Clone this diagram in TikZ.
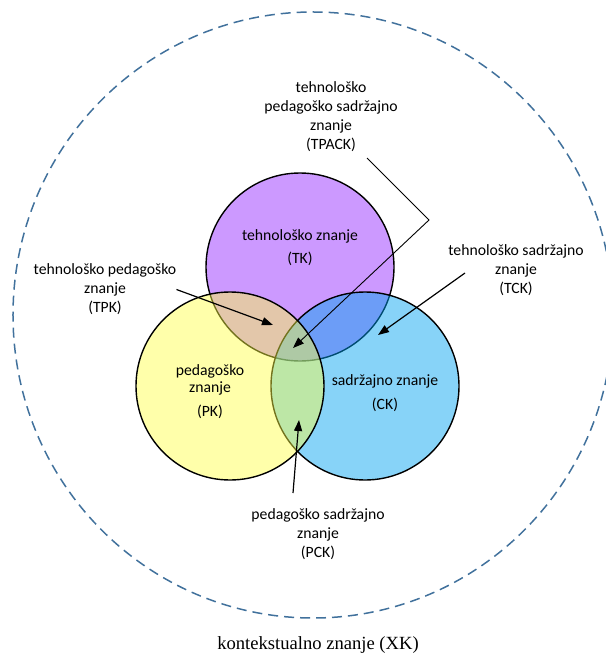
\documentclass[tikz,border=0pt]{standalone}
\usepackage{fontspec}
\setmainfont{Carlito}
\newfontfamily\xkfont{Liberation Serif}
\usetikzlibrary{arrows.meta}

\definecolor{tkboja}{RGB}{204,153,255}
\definecolor{ckboja}{RGB}{0,162,240}
\definecolor{pkboja}{RGB}{255,255,67}
\definecolor{xkboja}{RGB}{65,113,156}

\begin{document}
\begin{tikzpicture}[x=1bp, y=-1bp,
    krug/.style={draw, circle, line width=1.4bp, minimum size=188bp, inner sep=0pt},
    oznaka/.style={align=center, inner sep=0pt, font=\fontsize{15.7bp}{19bp}\selectfont},
    strelica/.style={-{Triangle[length=11bp, width=8bp]}, line width=1.2bp}]
    \clip (0,0) rectangle (606,655);
    \useasboundingbox (0,0) rectangle (606,655);
    % kontekst
    \draw[xkboja, line width=1.5bp, dash pattern=on 10bp off 6bp] (313,315) ellipse [x radius=300bp, y radius=303bp];
    % krugovi
    \node[krug, fill=tkboja] (TK) at (300,267) {};
    \node[krug, fill=ckboja, fill opacity=0.47] (CK) at (365,386) {};
    \node[krug, fill=pkboja, fill opacity=0.45] (PK) at (230,386) {};
    \node[oznaka] (TKtekst) at (300,248) {tehnološko znanje\\[4bp](TK)};
    \node[oznaka] (PKtekst) at (210,392) {pedagoško\\[-2bp]znanje\\[5bp](PK)};
    \node[oznaka] (CKtekst) at (385,393) {sadržajno znanje\\[5bp](CK)};
    % opisi
    \node[oznaka] (TPACK) at (331,117) {tehnološko\\pedagoško sadržajno\\znanje\\(TPACK)};
    \node[oznaka] (TPK) at (105,289.5) {tehnološko pedagoško\\znanje\\(TPK)};
    \node[oznaka] (TCK) at (516,270.5) {tehnološko sadržajno\\znanje\\(TCK)};
    \node[oznaka] (PCK) at (318,534.5) {pedagoško sadržajno\\znanje\\(PCK)};
    \node[font=\xkfont\fontsize{18.6bp}{22bp}\selectfont, inner sep=0pt] (XK) at (318,645) {kontekstualno znanje (XK)};
    % strelice
    \coordinate (tpackPocetak) at (367,158);
    \coordinate (tpackLom) at (429,220);
    \coordinate (tpackVrh) at (293,348);
    \coordinate (tpkVrh) at (273,325);
    \coordinate (tckPocetak) at (465,273);
    \coordinate (tckVrh) at (378,335);
    \coordinate (pckPocetak) at (293,493);
    \coordinate (pckVrh) at (299,420);
    \draw[strelica, line width=0.9bp] (tpackPocetak) -- (tpackLom) -- (tpackVrh);
    \draw[strelica] (TPK.east) -- (tpkVrh);
    \draw[strelica] (tckPocetak) -- (tckVrh);
    \draw[strelica] (pckPocetak) -- (pckVrh);
\end{tikzpicture}
\end{document}
